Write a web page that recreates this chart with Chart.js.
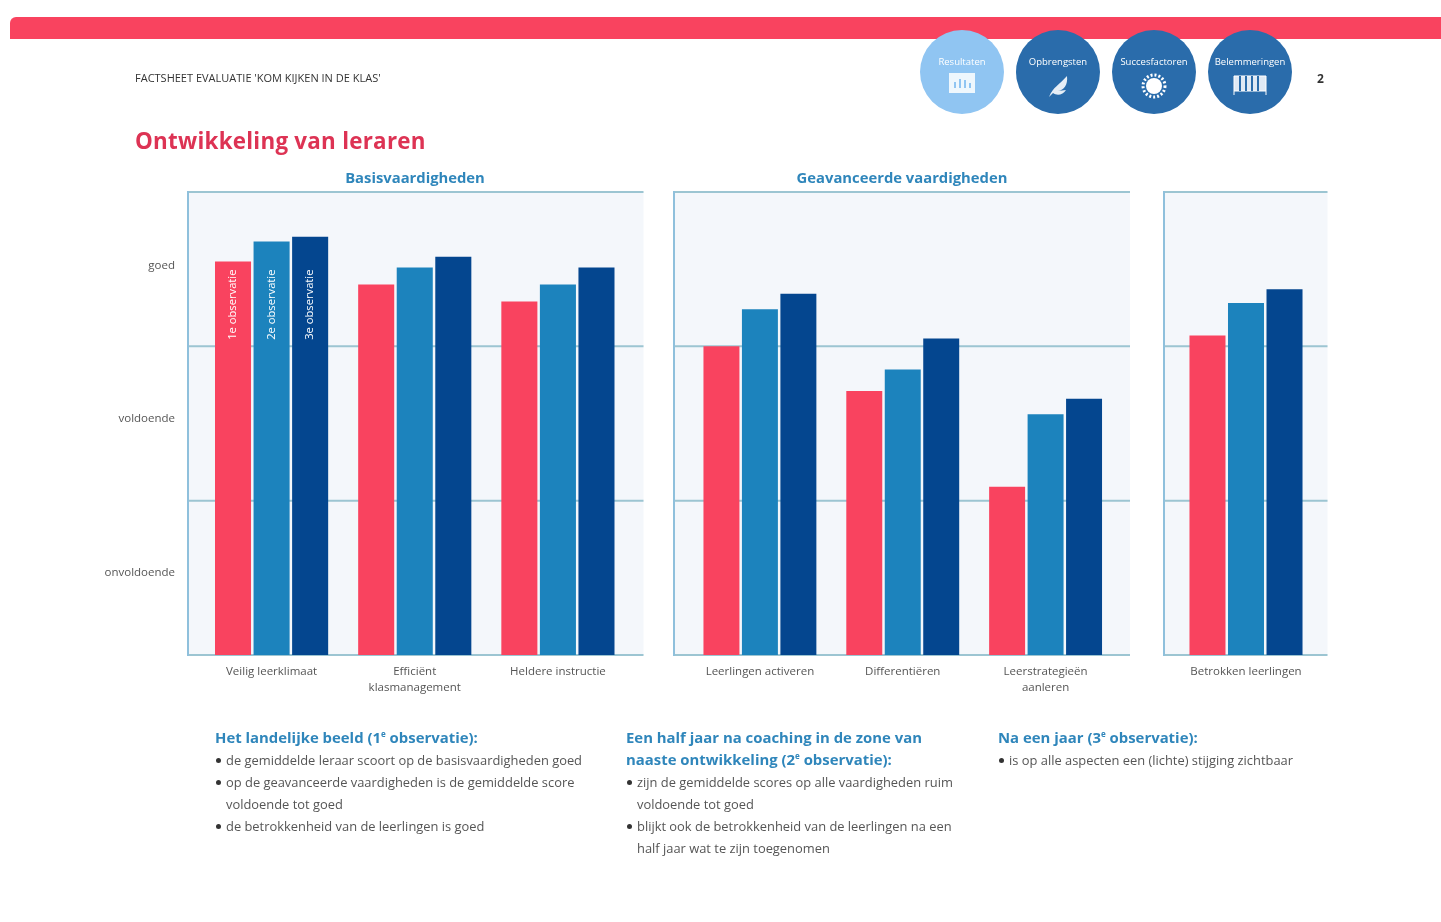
<!DOCTYPE html>
<html lang="nl">
<head>
<meta charset="utf-8">
<title>Ontwikkeling van leraren</title>
<script src="https://cdn.jsdelivr.net/npm/chart.js@4"></script>
<style>
  html, body { margin: 0; background: #fff; }
  #page { position: relative; width: 1441px; height: 922px; overflow: hidden; font-family: "Open Sans", sans-serif; color: #555; filter: blur(0.55px); }
  #page > * { position: absolute; }
  #bar { left: 10px; top: 17px; width: 1431px; height: 22px; background: #f9435f; border-radius: 6px 0 0 0; }
  #doc { left: 135px; top: 70px; font-size: 11px; color: #333; white-space: nowrap; }
  #num { left: 1317px; top: 70px; font-size: 12px; font-weight: 700; color: #333; }
  #title { left: 135px; top: 125px; font-size: 22.4px; font-weight: 700; color: #dd3354; white-space: nowrap; letter-spacing: .25px; }
  .group { top: 167px; font-size: 14.8px; font-weight: 700; color: #2f86bb; transform: translateX(-50%); white-space: nowrap; }
  .circle { top: 30px; width: 84px; height: 84px; border-radius: 50%; background: #2a6cab; color: #fff; font-size: 9.5px; text-align: center; line-height: 12px; }
  .circle span { display: block; margin-top: 26px; }
  .circle svg { display: block; margin: 5px auto 0; }
  .circle.on { background: #90c5f2; }
  canvas { top: 170px; }
  .note { font-size: 12.9px; line-height: 22px; white-space: nowrap; top: 726px; }
  .note b { display: block; color: #2f86bb; font-size: 14.9px; margin-bottom: 1px; }
  .note sup { font-size: 8px; line-height: 0; }
  .note div { padding-left: 11px; position: relative; }
  .note div::before { content: ""; position: absolute; left: 1px; top: 9px; width: 5px; height: 5px; border-radius: 50%; background: #333; }
</style>
</head>
<body>
<div id="page">
  <div id="bar"></div>
  <div id="doc">FACTSHEET EVALUATIE 'KOM KIJKEN IN DE KLAS'</div>
  <div class="circle on" style="left:920px"><span>Resultaten</span>
    <svg width="26" height="20"><rect width="26" height="20" fill="#fff" opacity=".85"/><path d="M6 15v-6M11 15V6M16 15v-8M21 15v-5" stroke="#90c5f2" stroke-width="2"/></svg></div>
  <div class="circle" style="left:1016px"><span>Opbrengsten</span>
    <svg width="26" height="26"><path d="M4 24C8 14 14 12 22 3c1 9-3 14-9 15l8-1c-3 5-9 6-13 3z" fill="#e6eef6"/></svg></div>
  <div class="circle" style="left:1112px"><span>Succesfactoren</span>
    <svg width="26" height="26"><circle cx="13" cy="13" r="8" fill="#fff"/><circle cx="13" cy="13" r="11" fill="none" stroke="#fff" stroke-width="3" stroke-dasharray="2 2"/></svg></div>
  <div class="circle" style="left:1208px"><span>Belemmeringen</span>
    <svg width="38" height="24"><path d="M3 3h32v15H3zM3 22v-4M35 22v-4" fill="#dfe9f4" stroke="#fff"/><path d="M9 3v15M15 3v15M21 3v15M27 3v15" stroke="#2a6cab" stroke-width="2"/></svg></div>
  <div id="num">2</div>
  <div id="title">Ontwikkeling van leraren</div>
  <div class="group" style="left:415px">Basisvaardigheden</div>
  <div class="group" style="left:902px">Geavanceerde vaardigheden</div>

  <canvas id="chartBasis" width="560" height="540" style="left:100px;width:560px;height:540px"></canvas>
  <canvas id="chartGeav" width="490" height="540" style="left:660px;width:490px;height:540px"></canvas>
  <canvas id="chartBetr" width="190" height="540" style="left:1150px;width:190px;height:540px"></canvas>

  <section class="note" style="left:215px">
    <b>Het landelijke beeld (1<sup>e</sup> observatie):</b>
    <div>de gemiddelde leraar scoort op de basisvaardigheden goed</div>
    <div>op de geavanceerde vaardigheden is de gemiddelde score<br>voldoende tot goed</div>
    <div>de betrokkenheid van de leerlingen is goed</div>
  </section>
  <section class="note" style="left:626px">
    <b>Een half jaar na coaching in de zone van<br>naaste ontwikkeling (2<sup>e</sup> observatie):</b>
    <div>zijn de gemiddelde scores op alle vaardigheden ruim<br>voldoende tot goed</div>
    <div>blijkt ook de betrokkenheid van de leerlingen na een<br>half jaar wat te zijn toegenomen</div>
  </section>
  <section class="note" style="left:998px">
    <b>Na een jaar (3<sup>e</sup> observatie):</b>
    <div>is op alle aspecten een (lichte) stijging zichtbaar</div>
  </section>
</div>

<script>
const scoreTicks = [0.53, 1.53, 2.525];
const scoreNames = ["onvoldoende", "voldoende", "goed"];
const seriesNames = ["1e observatie", "2e observatie", "3e observatie"];

const basisCategories = ["Veilig leerklimaat", ["Efficiënt", "klasmanagement"], "Heldere instructie"];
const basisObs1 = [2.55, 2.40, 2.29];
const basisObs2 = [2.68, 2.51, 2.40];
const basisObs3 = [2.71, 2.58, 2.51];

const geavCategories = ["Leerlingen activeren", "Differentiëren", ["Leerstrategieën", "aanleren"]];
const geavObs1 = [2.00, 1.71, 1.09];
const geavObs2 = [2.24, 1.85, 1.56];
const geavObs3 = [2.34, 2.05, 1.66];

const betrCategories = ["Betrokken leerlingen"];
const betrObs1 = [2.07];
const betrObs2 = [2.28];
const betrObs3 = [2.37];

const colors = ["#f9435f", "#1c83bd", "#04468f"];

// panel background and lines, they stick out past the outer categories
const panelPlugin = {
  id: "panel",
  beforeDatasetsDraw(chart, args, opts) {
    const ctx = chart.ctx;
    const area = chart.chartArea;
    const y = chart.scales.y;
    const x1 = area.left - opts.left;
    const x2 = area.right + opts.right;
    ctx.save();
    ctx.fillStyle = "#f4f7fb";
    ctx.fillRect(x1, area.top, x2 - x1, area.height);
    ctx.strokeStyle = "#9cc5d2";
    ctx.lineWidth = 2;
    [0, 1, 2, 3].forEach((v) => {
      ctx.beginPath();
      ctx.moveTo(x1, y.getPixelForValue(v));
      ctx.lineTo(x2, y.getPixelForValue(v));
      ctx.stroke();
    });
    ctx.strokeStyle = "#8fc0dc";
    ctx.beginPath();
    ctx.moveTo(x1, area.top - 1);
    ctx.lineTo(x1, area.bottom + 1);
    ctx.stroke();
    ctx.restore();
  },
  afterDatasetsDraw(chart, args, opts) {
    if (!opts.names) return;
    const ctx = chart.ctx;
    ctx.save();
    ctx.fillStyle = "#fff";
    ctx.font = "11.2px 'Open Sans'";
    ctx.textAlign = "center";
    ctx.textBaseline = "middle";
    chart.data.datasets.forEach((ds, i) => {
      const bar = chart.getDatasetMeta(i).data[0];
      ctx.save();
      ctx.translate(bar.x, chart.scales.y.getPixelForValue(2.27));
      ctx.rotate(-Math.PI / 2);
      ctx.fillText(ds.label, 0, 0);
      ctx.restore();
    });
    ctx.restore();
  }
};

function makeChart(id, categories, obs1, obs2, obs3, padLeft, padRight, over, withAxis) {
  const rows = [obs1, obs2, obs3];
  return new Chart(document.getElementById(id), {
    type: "bar",
    plugins: [panelPlugin],
    data: {
      labels: categories,
      datasets: rows.map((values, i) => ({
        label: seriesNames[i],
        data: values,
        backgroundColor: colors[i],
        barPercentage: 0.935,
        categoryPercentage: 0.808
      }))
    },
    options: {
      responsive: false,
      animation: false,
      layout: { padding: { left: padLeft, right: padRight, top: 22, bottom: 0 } },
      plugins: {
        legend: { display: false },
        tooltip: { enabled: false },
        panel: { left: over[0], right: over[1], names: withAxis }
      },
      scales: {
        x: {
          grid: { display: false, drawTicks: false },
          border: { display: false },
          afterFit(scale) { scale.height = 55; },
          ticks: { autoSkip: false, maxRotation: 0, padding: 9, color: "#555", font: { family: "Open Sans", size: 11.5, lineHeight: 1.4 } }
        },
        y: {
          display: withAxis,
          min: 0,
          max: 3,
          grid: { display: false, drawTicks: false },
          border: { display: false },
          afterBuildTicks(scale) { scale.ticks = scoreTicks.map((value) => ({ value })); },
          afterFit(scale) {
            scale.width = withAxis ? 100 : 0;
            scale.paddingTop = 0;
            scale.paddingBottom = 0;
          },
          ticks: {
            padding: 25,
            autoSkip: false,
            color: "#555",
            font: { family: "Open Sans", size: 11.5 },
            callback: (v) => scoreNames[scoreTicks.indexOf(v)]
          }
        }
      }
    }
  });
}

makeChart("chartBasis", basisCategories, basisObs1, basisObs2, basisObs3, 0, 30.5, [12, 14], true);
makeChart("chartGeav", geavCategories, geavObs1, geavObs2, geavObs3, 28.5, 33, [14.5, 13], false);
makeChart("chartBetr", betrCategories, betrObs1, betrObs2, betrObs3, 24.5, 22.5, [10.5, 10], false);
</script>
</body>
</html>
